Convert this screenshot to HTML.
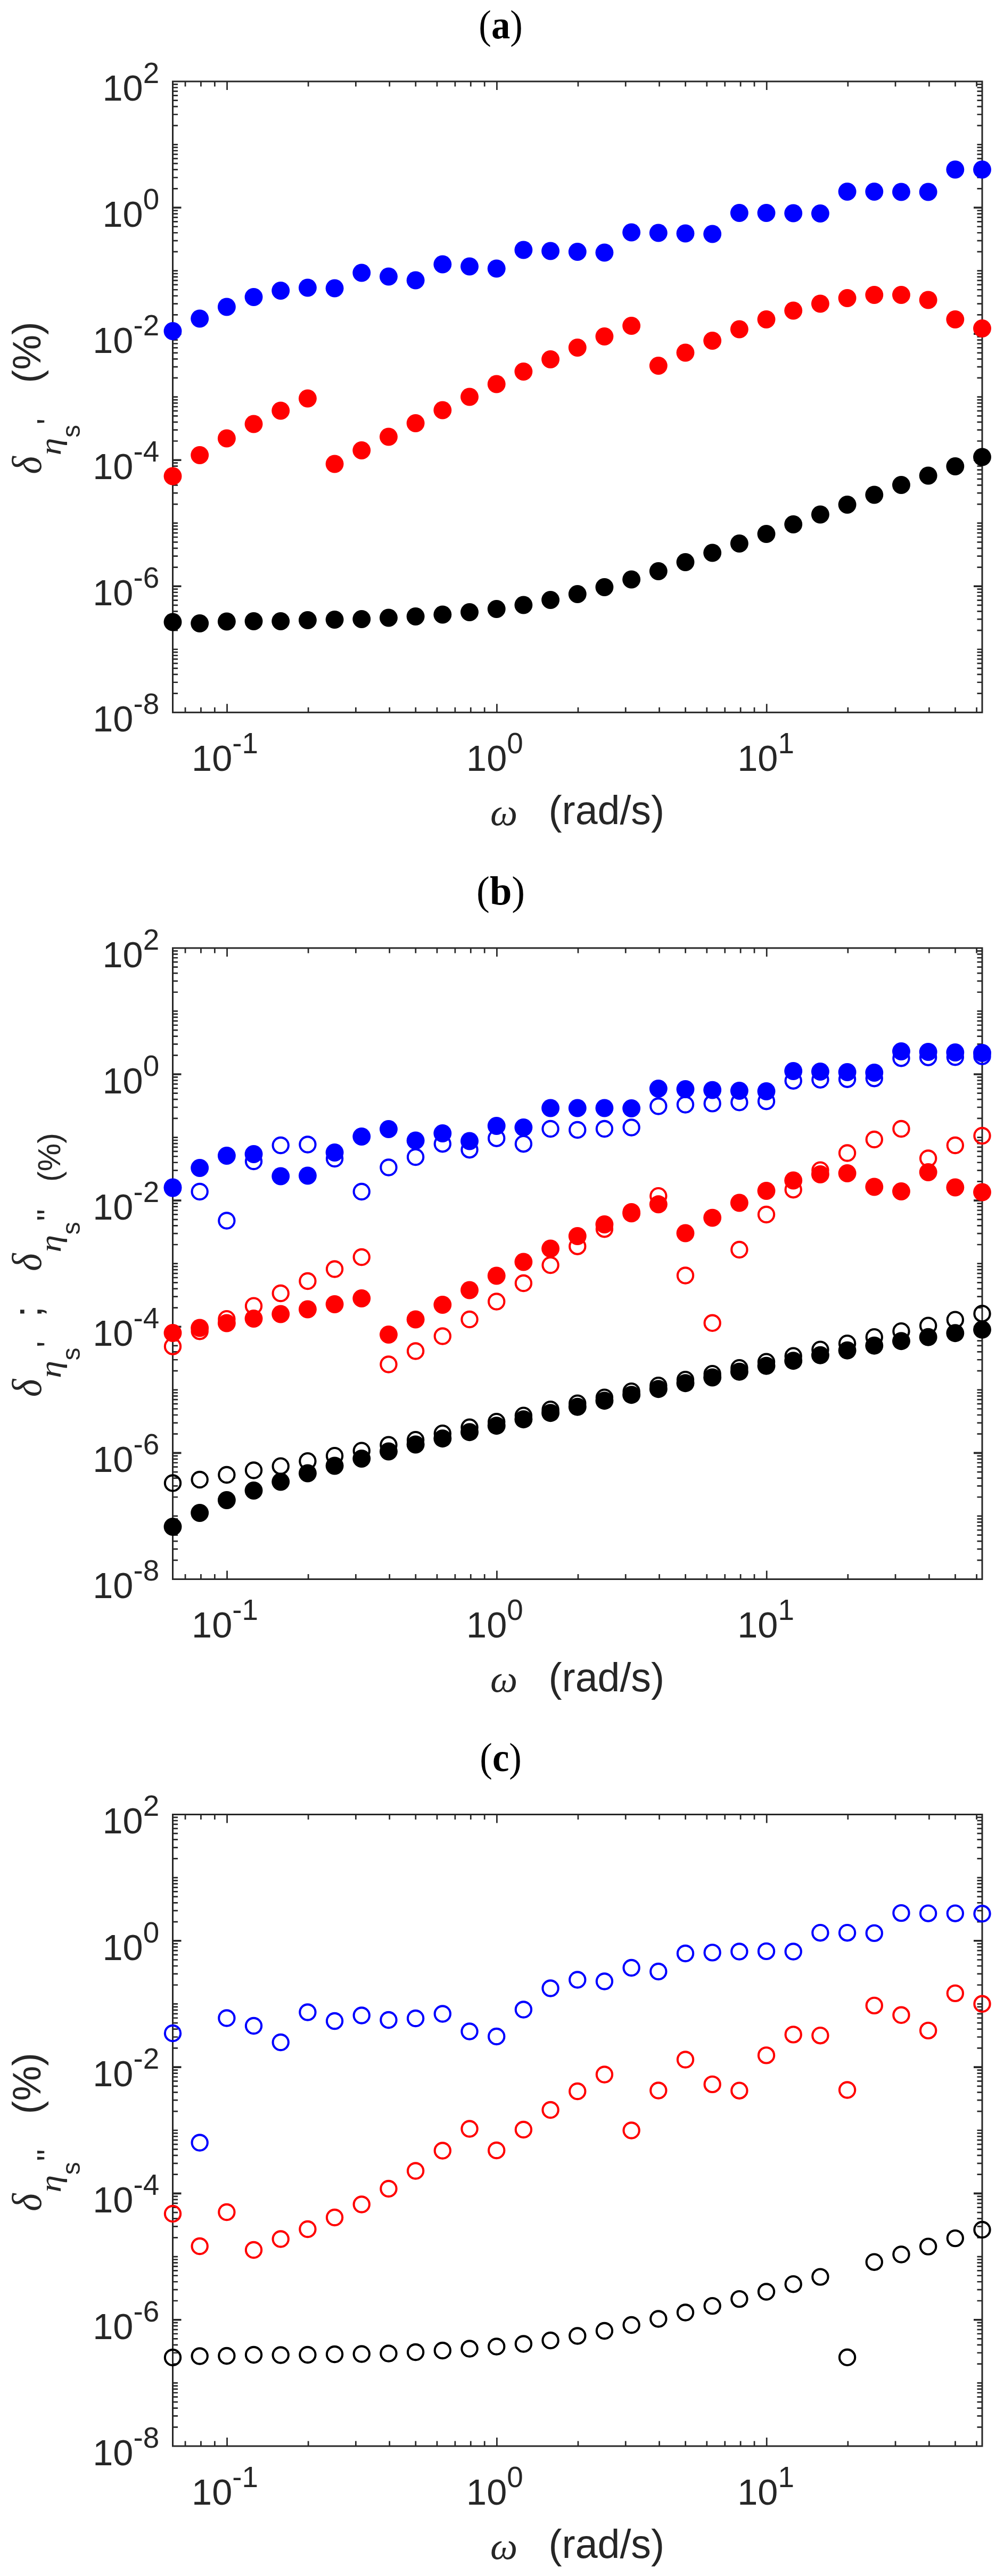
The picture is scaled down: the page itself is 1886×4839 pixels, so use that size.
<!DOCTYPE html><html><head><meta charset="utf-8"><title>figure</title><style>html,body{margin:0;padding:0;background:#fff}svg{display:block}text{font-family:'Liberation Sans', Arial, Helvetica, sans-serif;fill:#262626}text.sr{font-family:'Liberation Serif', 'Times New Roman', serif}text.si{font-family:'Liberation Serif', 'Times New Roman', serif;font-style:italic}</style></head><body>
<svg width="1886" height="4839" viewBox="0 0 1886 4839">
<rect width="1886" height="4839" fill="#fff"/>
<text transform="translate(940.6 71.5) scale(0.925 1)" text-anchor="middle" font-size="76.5" class="sr" style="fill:#000">(<tspan font-weight="bold">a</tspan>)</text>
<path d="M324.5 1302.62h9.5M1845 1302.62h-9.5M324.5 1281.75h9.5M1845 1281.75h-9.5M324.5 1266.94h9.5M1845 1266.94h-9.5M324.5 1255.45h9.5M1845 1255.45h-9.5M324.5 1246.07h9.5M1845 1246.07h-9.5M324.5 1238.13h9.5M1845 1238.13h-9.5M324.5 1231.26h9.5M1845 1231.26h-9.5M324.5 1225.19h9.5M1845 1225.19h-9.5M324.5 1219.77h9.5M1845 1219.77h-9.5M324.5 1184.09h9.5M1845 1184.09h-9.5M324.5 1163.22h9.5M1845 1163.22h-9.5M324.5 1148.41h9.5M1845 1148.41h-9.5M324.5 1136.92h9.5M1845 1136.92h-9.5M324.5 1127.54h9.5M1845 1127.54h-9.5M324.5 1119.6h9.5M1845 1119.6h-9.5M324.5 1112.73h9.5M1845 1112.73h-9.5M324.5 1106.66h9.5M1845 1106.66h-9.5M324.5 1065.56h9.5M1845 1065.56h-9.5M324.5 1044.69h9.5M1845 1044.69h-9.5M324.5 1029.88h9.5M1845 1029.88h-9.5M324.5 1018.39h9.5M1845 1018.39h-9.5M324.5 1009.01h9.5M1845 1009.01h-9.5M324.5 1001.07h9.5M1845 1001.07h-9.5M324.5 994.2h9.5M1845 994.2h-9.5M324.5 988.13h9.5M1845 988.13h-9.5M324.5 982.71h9.5M1845 982.71h-9.5M324.5 947.03h9.5M1845 947.03h-9.5M324.5 926.16h9.5M1845 926.16h-9.5M324.5 911.35h9.5M1845 911.35h-9.5M324.5 899.86h9.5M1845 899.86h-9.5M324.5 890.48h9.5M1845 890.48h-9.5M324.5 882.54h9.5M1845 882.54h-9.5M324.5 875.67h9.5M1845 875.67h-9.5M324.5 869.6h9.5M1845 869.6h-9.5M324.5 828.5h9.5M1845 828.5h-9.5M324.5 807.63h9.5M1845 807.63h-9.5M324.5 792.82h9.5M1845 792.82h-9.5M324.5 781.33h9.5M1845 781.33h-9.5M324.5 771.95h9.5M1845 771.95h-9.5M324.5 764.01h9.5M1845 764.01h-9.5M324.5 757.14h9.5M1845 757.14h-9.5M324.5 751.07h9.5M1845 751.07h-9.5M324.5 745.65h9.5M1845 745.65h-9.5M324.5 709.97h9.5M1845 709.97h-9.5M324.5 689.1h9.5M1845 689.1h-9.5M324.5 674.29h9.5M1845 674.29h-9.5M324.5 662.8h9.5M1845 662.8h-9.5M324.5 653.42h9.5M1845 653.42h-9.5M324.5 645.48h9.5M1845 645.48h-9.5M324.5 638.61h9.5M1845 638.61h-9.5M324.5 632.54h9.5M1845 632.54h-9.5M324.5 591.44h9.5M1845 591.44h-9.5M324.5 570.57h9.5M1845 570.57h-9.5M324.5 555.76h9.5M1845 555.76h-9.5M324.5 544.27h9.5M1845 544.27h-9.5M324.5 534.89h9.5M1845 534.89h-9.5M324.5 526.95h9.5M1845 526.95h-9.5M324.5 520.08h9.5M1845 520.08h-9.5M324.5 514.01h9.5M1845 514.01h-9.5M324.5 508.59h9.5M1845 508.59h-9.5M324.5 472.91h9.5M1845 472.91h-9.5M324.5 452.04h9.5M1845 452.04h-9.5M324.5 437.23h9.5M1845 437.23h-9.5M324.5 425.74h9.5M1845 425.74h-9.5M324.5 416.36h9.5M1845 416.36h-9.5M324.5 408.42h9.5M1845 408.42h-9.5M324.5 401.55h9.5M1845 401.55h-9.5M324.5 395.48h9.5M1845 395.48h-9.5M324.5 354.38h9.5M1845 354.38h-9.5M324.5 333.51h9.5M1845 333.51h-9.5M324.5 318.7h9.5M1845 318.7h-9.5M324.5 307.21h9.5M1845 307.21h-9.5M324.5 297.83h9.5M1845 297.83h-9.5M324.5 289.89h9.5M1845 289.89h-9.5M324.5 283.02h9.5M1845 283.02h-9.5M324.5 276.95h9.5M1845 276.95h-9.5M324.5 271.53h9.5M1845 271.53h-9.5M324.5 235.85h9.5M1845 235.85h-9.5M324.5 214.98h9.5M1845 214.98h-9.5M324.5 200.17h9.5M1845 200.17h-9.5M324.5 188.68h9.5M1845 188.68h-9.5M324.5 179.3h9.5M1845 179.3h-9.5M324.5 171.36h9.5M1845 171.36h-9.5M324.5 164.49h9.5M1845 164.49h-9.5M324.5 158.42h9.5M1845 158.42h-9.5M348.06 153v9.5M348.06 1338.3v-9.5M377.45 153v9.5M377.45 1338.3v-9.5M403.38 153v9.5M403.38 1338.3v-9.5M426.57 153v16M426.57 1338.3v-16M579.14 153v9.5M579.14 1338.3v-9.5M668.39 153v9.5M668.39 1338.3v-9.5M731.71 153v9.5M731.71 1338.3v-9.5M780.83 153v9.5M780.83 1338.3v-9.5M820.96 153v9.5M820.96 1338.3v-9.5M854.89 153v9.5M854.89 1338.3v-9.5M884.28 153v9.5M884.28 1338.3v-9.5M910.21 153v9.5M910.21 1338.3v-9.5M933.4 153v16M933.4 1338.3v-16M1085.97 153v9.5M1085.97 1338.3v-9.5M1175.22 153v9.5M1175.22 1338.3v-9.5M1238.54 153v9.5M1238.54 1338.3v-9.5M1287.66 153v9.5M1287.66 1338.3v-9.5M1327.79 153v9.5M1327.79 1338.3v-9.5M1361.72 153v9.5M1361.72 1338.3v-9.5M1391.12 153v9.5M1391.12 1338.3v-9.5M1417.04 153v9.5M1417.04 1338.3v-9.5M1440.23 153v16M1440.23 1338.3v-16M1592.81 153v9.5M1592.81 1338.3v-9.5M1682.05 153v9.5M1682.05 1338.3v-9.5M1745.38 153v9.5M1745.38 1338.3v-9.5M1794.49 153v9.5M1794.49 1338.3v-9.5M1834.63 153v9.5M1834.63 1338.3v-9.5" stroke="#262626" stroke-width="2.7" fill="none"/>
<path d="M324.5 1101.24h16M1845 1101.24h-16M324.5 864.18h16M1845 864.18h-16M324.5 627.12h16M1845 627.12h-16M324.5 390.06h16M1845 390.06h-16" stroke="#262626" stroke-width="3.6" fill="none"/>
<rect x="324.5" y="153" width="1520.5" height="1185.3" fill="none" stroke="#262626" stroke-width="3.0"/>
<text x="299.2" y="188.9" text-anchor="end" font-size="68.5">10<tspan dy="-33" font-size="54.8">2</tspan></text>
<text x="299.2" y="425.96" text-anchor="end" font-size="68.5">10<tspan dy="-33" font-size="54.8">0</tspan></text>
<text x="299.2" y="663.02" text-anchor="end" font-size="68.5">10<tspan dy="-33" font-size="54.8">-2</tspan></text>
<text x="299.2" y="900.08" text-anchor="end" font-size="68.5">10<tspan dy="-33" font-size="54.8">-4</tspan></text>
<text x="299.2" y="1137.14" text-anchor="end" font-size="68.5">10<tspan dy="-33" font-size="54.8">-6</tspan></text>
<text x="299.2" y="1374.2" text-anchor="end" font-size="68.5">10<tspan dy="-33" font-size="54.8">-8</tspan></text>
<text x="422.57" y="1448" text-anchor="middle" font-size="68.5">10<tspan dy="-33" font-size="54.8">-1</tspan></text>
<text x="929.4" y="1448" text-anchor="middle" font-size="68.5">10<tspan dy="-33" font-size="54.8">0</tspan></text>
<text x="1438.53" y="1448" text-anchor="middle" font-size="68.5">10<tspan dy="-33" font-size="54.8">1</tspan></text>
<text x="921" y="1549.9" font-size="72.5" class="si">ω</text>
<text x="1030.5" y="1548.4" font-size="75.3">(rad/s)</text>
<circle cx="324.5" cy="1168.5" r="16.95" fill="#000000"/>
<circle cx="375.18" cy="1171" r="16.95" fill="#000000"/>
<circle cx="425.87" cy="1167.5" r="16.95" fill="#000000"/>
<circle cx="476.55" cy="1167" r="16.95" fill="#000000"/>
<circle cx="527.23" cy="1167" r="16.95" fill="#000000"/>
<circle cx="577.92" cy="1165" r="16.95" fill="#000000"/>
<circle cx="628.6" cy="1164" r="16.95" fill="#000000"/>
<circle cx="679.28" cy="1163" r="16.95" fill="#000000"/>
<circle cx="729.97" cy="1160.5" r="16.95" fill="#000000"/>
<circle cx="780.65" cy="1158" r="16.95" fill="#000000"/>
<circle cx="831.33" cy="1154.5" r="16.95" fill="#000000"/>
<circle cx="882.02" cy="1150" r="16.95" fill="#000000"/>
<circle cx="932.7" cy="1144" r="16.95" fill="#000000"/>
<circle cx="983.38" cy="1136.5" r="16.95" fill="#000000"/>
<circle cx="1034.07" cy="1127" r="16.95" fill="#000000"/>
<circle cx="1084.75" cy="1116" r="16.95" fill="#000000"/>
<circle cx="1135.43" cy="1103" r="16.95" fill="#000000"/>
<circle cx="1186.12" cy="1088.5" r="16.95" fill="#000000"/>
<circle cx="1236.8" cy="1073" r="16.95" fill="#000000"/>
<circle cx="1287.48" cy="1056" r="16.95" fill="#000000"/>
<circle cx="1338.17" cy="1038.5" r="16.95" fill="#000000"/>
<circle cx="1388.85" cy="1021" r="16.95" fill="#000000"/>
<circle cx="1439.53" cy="1003" r="16.95" fill="#000000"/>
<circle cx="1490.22" cy="985" r="16.95" fill="#000000"/>
<circle cx="1540.9" cy="966.5" r="16.95" fill="#000000"/>
<circle cx="1591.58" cy="948" r="16.95" fill="#000000"/>
<circle cx="1642.27" cy="929.5" r="16.95" fill="#000000"/>
<circle cx="1692.95" cy="911" r="16.95" fill="#000000"/>
<circle cx="1743.63" cy="893.5" r="16.95" fill="#000000"/>
<circle cx="1794.32" cy="876" r="16.95" fill="#000000"/>
<circle cx="1845" cy="858.5" r="16.95" fill="#000000"/>
<circle cx="324.5" cy="894.5" r="16.95" fill="#ff0000"/>
<circle cx="375.18" cy="855" r="16.95" fill="#ff0000"/>
<circle cx="425.87" cy="823.5" r="16.95" fill="#ff0000"/>
<circle cx="476.55" cy="796.5" r="16.95" fill="#ff0000"/>
<circle cx="527.23" cy="771.5" r="16.95" fill="#ff0000"/>
<circle cx="577.92" cy="748.5" r="16.95" fill="#ff0000"/>
<circle cx="628.6" cy="871.5" r="16.95" fill="#ff0000"/>
<circle cx="679.28" cy="846" r="16.95" fill="#ff0000"/>
<circle cx="729.97" cy="820.5" r="16.95" fill="#ff0000"/>
<circle cx="780.65" cy="795" r="16.95" fill="#ff0000"/>
<circle cx="831.33" cy="770.5" r="16.95" fill="#ff0000"/>
<circle cx="882.02" cy="745.5" r="16.95" fill="#ff0000"/>
<circle cx="932.7" cy="721.5" r="16.95" fill="#ff0000"/>
<circle cx="983.38" cy="698" r="16.95" fill="#ff0000"/>
<circle cx="1034.07" cy="675" r="16.95" fill="#ff0000"/>
<circle cx="1084.75" cy="653" r="16.95" fill="#ff0000"/>
<circle cx="1135.43" cy="632" r="16.95" fill="#ff0000"/>
<circle cx="1186.12" cy="612" r="16.95" fill="#ff0000"/>
<circle cx="1236.8" cy="687" r="16.95" fill="#ff0000"/>
<circle cx="1287.48" cy="662.5" r="16.95" fill="#ff0000"/>
<circle cx="1338.17" cy="640" r="16.95" fill="#ff0000"/>
<circle cx="1388.85" cy="618.5" r="16.95" fill="#ff0000"/>
<circle cx="1439.53" cy="600" r="16.95" fill="#ff0000"/>
<circle cx="1490.22" cy="583.5" r="16.95" fill="#ff0000"/>
<circle cx="1540.9" cy="570.5" r="16.95" fill="#ff0000"/>
<circle cx="1591.58" cy="560" r="16.95" fill="#ff0000"/>
<circle cx="1642.27" cy="554" r="16.95" fill="#ff0000"/>
<circle cx="1692.95" cy="554" r="16.95" fill="#ff0000"/>
<circle cx="1743.63" cy="563.5" r="16.95" fill="#ff0000"/>
<circle cx="1794.32" cy="600" r="16.95" fill="#ff0000"/>
<circle cx="1845" cy="617" r="16.95" fill="#ff0000"/>
<circle cx="324.5" cy="622" r="16.95" fill="#0000ff"/>
<circle cx="375.18" cy="598.5" r="16.95" fill="#0000ff"/>
<circle cx="425.87" cy="576.5" r="16.95" fill="#0000ff"/>
<circle cx="476.55" cy="558" r="16.95" fill="#0000ff"/>
<circle cx="527.23" cy="546" r="16.95" fill="#0000ff"/>
<circle cx="577.92" cy="540.5" r="16.95" fill="#0000ff"/>
<circle cx="628.6" cy="541.5" r="16.95" fill="#0000ff"/>
<circle cx="679.28" cy="512.5" r="16.95" fill="#0000ff"/>
<circle cx="729.97" cy="519.5" r="16.95" fill="#0000ff"/>
<circle cx="780.65" cy="526.5" r="16.95" fill="#0000ff"/>
<circle cx="831.33" cy="496.5" r="16.95" fill="#0000ff"/>
<circle cx="882.02" cy="500.5" r="16.95" fill="#0000ff"/>
<circle cx="932.7" cy="504.5" r="16.95" fill="#0000ff"/>
<circle cx="983.38" cy="469.5" r="16.95" fill="#0000ff"/>
<circle cx="1034.07" cy="471.5" r="16.95" fill="#0000ff"/>
<circle cx="1084.75" cy="473" r="16.95" fill="#0000ff"/>
<circle cx="1135.43" cy="474.5" r="16.95" fill="#0000ff"/>
<circle cx="1186.12" cy="436.5" r="16.95" fill="#0000ff"/>
<circle cx="1236.8" cy="437.5" r="16.95" fill="#0000ff"/>
<circle cx="1287.48" cy="438.5" r="16.95" fill="#0000ff"/>
<circle cx="1338.17" cy="439.5" r="16.95" fill="#0000ff"/>
<circle cx="1388.85" cy="400" r="16.95" fill="#0000ff"/>
<circle cx="1439.53" cy="400" r="16.95" fill="#0000ff"/>
<circle cx="1490.22" cy="400.5" r="16.95" fill="#0000ff"/>
<circle cx="1540.9" cy="401" r="16.95" fill="#0000ff"/>
<circle cx="1591.58" cy="360" r="16.95" fill="#0000ff"/>
<circle cx="1642.27" cy="360" r="16.95" fill="#0000ff"/>
<circle cx="1692.95" cy="360.5" r="16.95" fill="#0000ff"/>
<circle cx="1743.63" cy="360.5" r="16.95" fill="#0000ff"/>
<circle cx="1794.32" cy="318.5" r="16.95" fill="#0000ff"/>
<circle cx="1845" cy="318.5" r="16.95" fill="#0000ff"/>
<g transform="translate(77.3 890.5) rotate(-90)"><text font-size="78" class="si" transform="scale(0.915 1)">δ</text></g>
<g transform="translate(113.6 855.3) rotate(-90)"><text font-size="57" class="si" transform="scale(1.16 1)">η</text></g>
<g transform="translate(149.95 821.95) rotate(-90)"><text font-size="48.2">s</text></g>
<g transform="translate(112.2 797.45) rotate(-90)"><text font-size="60.2">'</text></g>
<g transform="translate(76.45 719.5) rotate(-90)"><text font-size="74">(%)</text></g>
<text transform="translate(940.6 1699.4) scale(0.974 1)" text-anchor="middle" font-size="76.5" class="sr" style="fill:#000">(<tspan font-weight="bold">b</tspan>)</text>
<path d="M324.5 2930.81h9.5M1845 2930.81h-9.5M324.5 2909.93h9.5M1845 2909.93h-9.5M324.5 2895.12h9.5M1845 2895.12h-9.5M324.5 2883.63h9.5M1845 2883.63h-9.5M324.5 2874.24h9.5M1845 2874.24h-9.5M324.5 2866.31h9.5M1845 2866.31h-9.5M324.5 2859.43h9.5M1845 2859.43h-9.5M324.5 2853.37h9.5M1845 2853.37h-9.5M324.5 2847.94h9.5M1845 2847.94h-9.5M324.5 2812.25h9.5M1845 2812.25h-9.5M324.5 2791.37h9.5M1845 2791.37h-9.5M324.5 2776.56h9.5M1845 2776.56h-9.5M324.5 2765.07h9.5M1845 2765.07h-9.5M324.5 2755.68h9.5M1845 2755.68h-9.5M324.5 2747.75h9.5M1845 2747.75h-9.5M324.5 2740.87h9.5M1845 2740.87h-9.5M324.5 2734.81h9.5M1845 2734.81h-9.5M324.5 2693.69h9.5M1845 2693.69h-9.5M324.5 2672.81h9.5M1845 2672.81h-9.5M324.5 2658h9.5M1845 2658h-9.5M324.5 2646.51h9.5M1845 2646.51h-9.5M324.5 2637.12h9.5M1845 2637.12h-9.5M324.5 2629.19h9.5M1845 2629.19h-9.5M324.5 2622.31h9.5M1845 2622.31h-9.5M324.5 2616.25h9.5M1845 2616.25h-9.5M324.5 2610.82h9.5M1845 2610.82h-9.5M324.5 2575.13h9.5M1845 2575.13h-9.5M324.5 2554.25h9.5M1845 2554.25h-9.5M324.5 2539.44h9.5M1845 2539.44h-9.5M324.5 2527.95h9.5M1845 2527.95h-9.5M324.5 2518.56h9.5M1845 2518.56h-9.5M324.5 2510.63h9.5M1845 2510.63h-9.5M324.5 2503.75h9.5M1845 2503.75h-9.5M324.5 2497.69h9.5M1845 2497.69h-9.5M324.5 2456.57h9.5M1845 2456.57h-9.5M324.5 2435.69h9.5M1845 2435.69h-9.5M324.5 2420.88h9.5M1845 2420.88h-9.5M324.5 2409.39h9.5M1845 2409.39h-9.5M324.5 2400h9.5M1845 2400h-9.5M324.5 2392.07h9.5M1845 2392.07h-9.5M324.5 2385.19h9.5M1845 2385.19h-9.5M324.5 2379.13h9.5M1845 2379.13h-9.5M324.5 2373.7h9.5M1845 2373.7h-9.5M324.5 2338.01h9.5M1845 2338.01h-9.5M324.5 2317.13h9.5M1845 2317.13h-9.5M324.5 2302.32h9.5M1845 2302.32h-9.5M324.5 2290.83h9.5M1845 2290.83h-9.5M324.5 2281.44h9.5M1845 2281.44h-9.5M324.5 2273.51h9.5M1845 2273.51h-9.5M324.5 2266.63h9.5M1845 2266.63h-9.5M324.5 2260.57h9.5M1845 2260.57h-9.5M324.5 2219.45h9.5M1845 2219.45h-9.5M324.5 2198.57h9.5M1845 2198.57h-9.5M324.5 2183.76h9.5M1845 2183.76h-9.5M324.5 2172.27h9.5M1845 2172.27h-9.5M324.5 2162.88h9.5M1845 2162.88h-9.5M324.5 2154.95h9.5M1845 2154.95h-9.5M324.5 2148.07h9.5M1845 2148.07h-9.5M324.5 2142.01h9.5M1845 2142.01h-9.5M324.5 2136.58h9.5M1845 2136.58h-9.5M324.5 2100.89h9.5M1845 2100.89h-9.5M324.5 2080.01h9.5M1845 2080.01h-9.5M324.5 2065.2h9.5M1845 2065.2h-9.5M324.5 2053.71h9.5M1845 2053.71h-9.5M324.5 2044.32h9.5M1845 2044.32h-9.5M324.5 2036.39h9.5M1845 2036.39h-9.5M324.5 2029.51h9.5M1845 2029.51h-9.5M324.5 2023.45h9.5M1845 2023.45h-9.5M324.5 1982.33h9.5M1845 1982.33h-9.5M324.5 1961.45h9.5M1845 1961.45h-9.5M324.5 1946.64h9.5M1845 1946.64h-9.5M324.5 1935.15h9.5M1845 1935.15h-9.5M324.5 1925.76h9.5M1845 1925.76h-9.5M324.5 1917.83h9.5M1845 1917.83h-9.5M324.5 1910.95h9.5M1845 1910.95h-9.5M324.5 1904.89h9.5M1845 1904.89h-9.5M324.5 1899.46h9.5M1845 1899.46h-9.5M324.5 1863.77h9.5M1845 1863.77h-9.5M324.5 1842.89h9.5M1845 1842.89h-9.5M324.5 1828.08h9.5M1845 1828.08h-9.5M324.5 1816.59h9.5M1845 1816.59h-9.5M324.5 1807.2h9.5M1845 1807.2h-9.5M324.5 1799.27h9.5M1845 1799.27h-9.5M324.5 1792.39h9.5M1845 1792.39h-9.5M324.5 1786.33h9.5M1845 1786.33h-9.5M348.06 1780.9v9.5M348.06 2966.5v-9.5M377.45 1780.9v9.5M377.45 2966.5v-9.5M403.38 1780.9v9.5M403.38 2966.5v-9.5M426.57 1780.9v16M426.57 2966.5v-16M579.14 1780.9v9.5M579.14 2966.5v-9.5M668.39 1780.9v9.5M668.39 2966.5v-9.5M731.71 1780.9v9.5M731.71 2966.5v-9.5M780.83 1780.9v9.5M780.83 2966.5v-9.5M820.96 1780.9v9.5M820.96 2966.5v-9.5M854.89 1780.9v9.5M854.89 2966.5v-9.5M884.28 1780.9v9.5M884.28 2966.5v-9.5M910.21 1780.9v9.5M910.21 2966.5v-9.5M933.4 1780.9v16M933.4 2966.5v-16M1085.97 1780.9v9.5M1085.97 2966.5v-9.5M1175.22 1780.9v9.5M1175.22 2966.5v-9.5M1238.54 1780.9v9.5M1238.54 2966.5v-9.5M1287.66 1780.9v9.5M1287.66 2966.5v-9.5M1327.79 1780.9v9.5M1327.79 2966.5v-9.5M1361.72 1780.9v9.5M1361.72 2966.5v-9.5M1391.12 1780.9v9.5M1391.12 2966.5v-9.5M1417.04 1780.9v9.5M1417.04 2966.5v-9.5M1440.23 1780.9v16M1440.23 2966.5v-16M1592.81 1780.9v9.5M1592.81 2966.5v-9.5M1682.05 1780.9v9.5M1682.05 2966.5v-9.5M1745.38 1780.9v9.5M1745.38 2966.5v-9.5M1794.49 1780.9v9.5M1794.49 2966.5v-9.5M1834.63 1780.9v9.5M1834.63 2966.5v-9.5" stroke="#262626" stroke-width="2.7" fill="none"/>
<path d="M324.5 2729.38h16M1845 2729.38h-16M324.5 2492.26h16M1845 2492.26h-16M324.5 2255.14h16M1845 2255.14h-16M324.5 2018.02h16M1845 2018.02h-16" stroke="#262626" stroke-width="3.6" fill="none"/>
<rect x="324.5" y="1780.9" width="1520.5" height="1185.6" fill="none" stroke="#262626" stroke-width="3.0"/>
<text x="299.2" y="1816.8" text-anchor="end" font-size="68.5">10<tspan dy="-33" font-size="54.8">2</tspan></text>
<text x="299.2" y="2053.92" text-anchor="end" font-size="68.5">10<tspan dy="-33" font-size="54.8">0</tspan></text>
<text x="299.2" y="2291.04" text-anchor="end" font-size="68.5">10<tspan dy="-33" font-size="54.8">-2</tspan></text>
<text x="299.2" y="2528.16" text-anchor="end" font-size="68.5">10<tspan dy="-33" font-size="54.8">-4</tspan></text>
<text x="299.2" y="2765.28" text-anchor="end" font-size="68.5">10<tspan dy="-33" font-size="54.8">-6</tspan></text>
<text x="299.2" y="3002.4" text-anchor="end" font-size="68.5">10<tspan dy="-33" font-size="54.8">-8</tspan></text>
<text x="422.57" y="3076.2" text-anchor="middle" font-size="68.5">10<tspan dy="-33" font-size="54.8">-1</tspan></text>
<text x="929.4" y="3076.2" text-anchor="middle" font-size="68.5">10<tspan dy="-33" font-size="54.8">0</tspan></text>
<text x="1438.53" y="3076.2" text-anchor="middle" font-size="68.5">10<tspan dy="-33" font-size="54.8">1</tspan></text>
<text x="921" y="3178.1" font-size="72.5" class="si">ω</text>
<text x="1030.5" y="3176.6" font-size="75.3">(rad/s)</text>
<circle cx="324.5" cy="2786" r="14.65" fill="none" stroke="#000000" stroke-width="4.1"/>
<circle cx="375.18" cy="2779.5" r="14.65" fill="none" stroke="#000000" stroke-width="4.1"/>
<circle cx="425.87" cy="2770.5" r="14.65" fill="none" stroke="#000000" stroke-width="4.1"/>
<circle cx="476.55" cy="2762" r="14.65" fill="none" stroke="#000000" stroke-width="4.1"/>
<circle cx="527.23" cy="2754.2" r="14.65" fill="none" stroke="#000000" stroke-width="4.1"/>
<circle cx="577.92" cy="2744.7" r="14.65" fill="none" stroke="#000000" stroke-width="4.1"/>
<circle cx="628.6" cy="2734.7" r="14.65" fill="none" stroke="#000000" stroke-width="4.1"/>
<circle cx="679.28" cy="2725.2" r="14.65" fill="none" stroke="#000000" stroke-width="4.1"/>
<circle cx="729.97" cy="2714.2" r="14.65" fill="none" stroke="#000000" stroke-width="4.1"/>
<circle cx="780.65" cy="2704.7" r="14.65" fill="none" stroke="#000000" stroke-width="4.1"/>
<circle cx="831.33" cy="2692.7" r="14.65" fill="none" stroke="#000000" stroke-width="4.1"/>
<circle cx="882.02" cy="2681.2" r="14.65" fill="none" stroke="#000000" stroke-width="4.1"/>
<circle cx="932.7" cy="2670.7" r="14.65" fill="none" stroke="#000000" stroke-width="4.1"/>
<circle cx="983.38" cy="2659.2" r="14.65" fill="none" stroke="#000000" stroke-width="4.1"/>
<circle cx="1034.07" cy="2647.7" r="14.65" fill="none" stroke="#000000" stroke-width="4.1"/>
<circle cx="1084.75" cy="2636.2" r="14.65" fill="none" stroke="#000000" stroke-width="4.1"/>
<circle cx="1135.43" cy="2625.2" r="14.65" fill="none" stroke="#000000" stroke-width="4.1"/>
<circle cx="1186.12" cy="2613.7" r="14.65" fill="none" stroke="#000000" stroke-width="4.1"/>
<circle cx="1236.8" cy="2602.7" r="14.65" fill="none" stroke="#000000" stroke-width="4.1"/>
<circle cx="1287.48" cy="2591.7" r="14.65" fill="none" stroke="#000000" stroke-width="4.1"/>
<circle cx="1338.17" cy="2580.7" r="14.65" fill="none" stroke="#000000" stroke-width="4.1"/>
<circle cx="1388.85" cy="2569.7" r="14.65" fill="none" stroke="#000000" stroke-width="4.1"/>
<circle cx="1439.53" cy="2558.2" r="14.65" fill="none" stroke="#000000" stroke-width="4.1"/>
<circle cx="1490.22" cy="2547.2" r="14.65" fill="none" stroke="#000000" stroke-width="4.1"/>
<circle cx="1540.9" cy="2535.2" r="14.65" fill="none" stroke="#000000" stroke-width="4.1"/>
<circle cx="1591.58" cy="2523.7" r="14.65" fill="none" stroke="#000000" stroke-width="4.1"/>
<circle cx="1642.27" cy="2511.7" r="14.65" fill="none" stroke="#000000" stroke-width="4.1"/>
<circle cx="1692.95" cy="2500.7" r="14.65" fill="none" stroke="#000000" stroke-width="4.1"/>
<circle cx="1743.63" cy="2490.2" r="14.65" fill="none" stroke="#000000" stroke-width="4.1"/>
<circle cx="1794.32" cy="2479.2" r="14.65" fill="none" stroke="#000000" stroke-width="4.1"/>
<circle cx="1845" cy="2467.7" r="14.65" fill="none" stroke="#000000" stroke-width="4.1"/>
<circle cx="324.5" cy="2529.2" r="14.65" fill="none" stroke="#ff0000" stroke-width="4.1"/>
<circle cx="375.18" cy="2500.7" r="14.65" fill="none" stroke="#ff0000" stroke-width="4.1"/>
<circle cx="425.87" cy="2477.7" r="14.65" fill="none" stroke="#ff0000" stroke-width="4.1"/>
<circle cx="476.55" cy="2453.2" r="14.65" fill="none" stroke="#ff0000" stroke-width="4.1"/>
<circle cx="527.23" cy="2429.5" r="14.65" fill="none" stroke="#ff0000" stroke-width="4.1"/>
<circle cx="577.92" cy="2406.5" r="14.65" fill="none" stroke="#ff0000" stroke-width="4.1"/>
<circle cx="628.6" cy="2384" r="14.65" fill="none" stroke="#ff0000" stroke-width="4.1"/>
<circle cx="679.28" cy="2361.5" r="14.65" fill="none" stroke="#ff0000" stroke-width="4.1"/>
<circle cx="729.97" cy="2563" r="14.65" fill="none" stroke="#ff0000" stroke-width="4.1"/>
<circle cx="780.65" cy="2538" r="14.65" fill="none" stroke="#ff0000" stroke-width="4.1"/>
<circle cx="831.33" cy="2510" r="14.65" fill="none" stroke="#ff0000" stroke-width="4.1"/>
<circle cx="882.02" cy="2478.5" r="14.65" fill="none" stroke="#ff0000" stroke-width="4.1"/>
<circle cx="932.7" cy="2445" r="14.65" fill="none" stroke="#ff0000" stroke-width="4.1"/>
<circle cx="983.38" cy="2410.5" r="14.65" fill="none" stroke="#ff0000" stroke-width="4.1"/>
<circle cx="1034.07" cy="2376.5" r="14.65" fill="none" stroke="#ff0000" stroke-width="4.1"/>
<circle cx="1084.75" cy="2341.2" r="14.65" fill="none" stroke="#ff0000" stroke-width="4.1"/>
<circle cx="1135.43" cy="2308.7" r="14.65" fill="none" stroke="#ff0000" stroke-width="4.1"/>
<circle cx="1186.12" cy="2276.6" r="14.65" fill="none" stroke="#ff0000" stroke-width="4.1"/>
<circle cx="1236.8" cy="2246.7" r="14.65" fill="none" stroke="#ff0000" stroke-width="4.1"/>
<circle cx="1287.48" cy="2396" r="14.65" fill="none" stroke="#ff0000" stroke-width="4.1"/>
<circle cx="1338.17" cy="2485.3" r="14.65" fill="none" stroke="#ff0000" stroke-width="4.1"/>
<circle cx="1388.85" cy="2347.5" r="14.65" fill="none" stroke="#ff0000" stroke-width="4.1"/>
<circle cx="1439.53" cy="2281.5" r="14.65" fill="none" stroke="#ff0000" stroke-width="4.1"/>
<circle cx="1490.22" cy="2234.7" r="14.65" fill="none" stroke="#ff0000" stroke-width="4.1"/>
<circle cx="1540.9" cy="2198.2" r="14.65" fill="none" stroke="#ff0000" stroke-width="4.1"/>
<circle cx="1591.58" cy="2166" r="14.65" fill="none" stroke="#ff0000" stroke-width="4.1"/>
<circle cx="1642.27" cy="2140.5" r="14.65" fill="none" stroke="#ff0000" stroke-width="4.1"/>
<circle cx="1692.95" cy="2120.5" r="14.65" fill="none" stroke="#ff0000" stroke-width="4.1"/>
<circle cx="1743.63" cy="2176" r="14.65" fill="none" stroke="#ff0000" stroke-width="4.1"/>
<circle cx="1794.32" cy="2151.5" r="14.65" fill="none" stroke="#ff0000" stroke-width="4.1"/>
<circle cx="1845" cy="2133.5" r="14.65" fill="none" stroke="#ff0000" stroke-width="4.1"/>
<circle cx="324.5" cy="2232" r="14.65" fill="none" stroke="#0000ff" stroke-width="4.1"/>
<circle cx="375.18" cy="2238.5" r="14.65" fill="none" stroke="#0000ff" stroke-width="4.1"/>
<circle cx="425.87" cy="2293" r="14.65" fill="none" stroke="#0000ff" stroke-width="4.1"/>
<circle cx="476.55" cy="2181.5" r="14.65" fill="none" stroke="#0000ff" stroke-width="4.1"/>
<circle cx="527.23" cy="2151.5" r="14.65" fill="none" stroke="#0000ff" stroke-width="4.1"/>
<circle cx="577.92" cy="2150" r="14.65" fill="none" stroke="#0000ff" stroke-width="4.1"/>
<circle cx="628.6" cy="2176.5" r="14.65" fill="none" stroke="#0000ff" stroke-width="4.1"/>
<circle cx="679.28" cy="2238.5" r="14.65" fill="none" stroke="#0000ff" stroke-width="4.1"/>
<circle cx="729.97" cy="2193" r="14.65" fill="none" stroke="#0000ff" stroke-width="4.1"/>
<circle cx="780.65" cy="2173.5" r="14.65" fill="none" stroke="#0000ff" stroke-width="4.1"/>
<circle cx="831.33" cy="2148.7" r="14.65" fill="none" stroke="#0000ff" stroke-width="4.1"/>
<circle cx="882.02" cy="2159.7" r="14.65" fill="none" stroke="#0000ff" stroke-width="4.1"/>
<circle cx="932.7" cy="2138.2" r="14.65" fill="none" stroke="#0000ff" stroke-width="4.1"/>
<circle cx="983.38" cy="2148.7" r="14.65" fill="none" stroke="#0000ff" stroke-width="4.1"/>
<circle cx="1034.07" cy="2120.5" r="14.65" fill="none" stroke="#0000ff" stroke-width="4.1"/>
<circle cx="1084.75" cy="2122.5" r="14.65" fill="none" stroke="#0000ff" stroke-width="4.1"/>
<circle cx="1135.43" cy="2120.5" r="14.65" fill="none" stroke="#0000ff" stroke-width="4.1"/>
<circle cx="1186.12" cy="2118" r="14.65" fill="none" stroke="#0000ff" stroke-width="4.1"/>
<circle cx="1236.8" cy="2078" r="14.65" fill="none" stroke="#0000ff" stroke-width="4.1"/>
<circle cx="1287.48" cy="2075" r="14.65" fill="none" stroke="#0000ff" stroke-width="4.1"/>
<circle cx="1338.17" cy="2072.9" r="14.65" fill="none" stroke="#0000ff" stroke-width="4.1"/>
<circle cx="1388.85" cy="2070.8" r="14.65" fill="none" stroke="#0000ff" stroke-width="4.1"/>
<circle cx="1439.53" cy="2068.7" r="14.65" fill="none" stroke="#0000ff" stroke-width="4.1"/>
<circle cx="1490.22" cy="2030.2" r="14.65" fill="none" stroke="#0000ff" stroke-width="4.1"/>
<circle cx="1540.9" cy="2028.2" r="14.65" fill="none" stroke="#0000ff" stroke-width="4.1"/>
<circle cx="1591.58" cy="2027.2" r="14.65" fill="none" stroke="#0000ff" stroke-width="4.1"/>
<circle cx="1642.27" cy="2025.7" r="14.65" fill="none" stroke="#0000ff" stroke-width="4.1"/>
<circle cx="1692.95" cy="1987.7" r="14.65" fill="none" stroke="#0000ff" stroke-width="4.1"/>
<circle cx="1743.63" cy="1986.2" r="14.65" fill="none" stroke="#0000ff" stroke-width="4.1"/>
<circle cx="1794.32" cy="1985.7" r="14.65" fill="none" stroke="#0000ff" stroke-width="4.1"/>
<circle cx="1845" cy="1984.2" r="14.65" fill="none" stroke="#0000ff" stroke-width="4.1"/>
<circle cx="324.5" cy="2868" r="16.95" fill="#000000"/>
<circle cx="375.18" cy="2842" r="16.95" fill="#000000"/>
<circle cx="425.87" cy="2818" r="16.95" fill="#000000"/>
<circle cx="476.55" cy="2800" r="16.95" fill="#000000"/>
<circle cx="527.23" cy="2783.5" r="16.95" fill="#000000"/>
<circle cx="577.92" cy="2767.5" r="16.95" fill="#000000"/>
<circle cx="628.6" cy="2753.5" r="16.95" fill="#000000"/>
<circle cx="679.28" cy="2740" r="16.95" fill="#000000"/>
<circle cx="729.97" cy="2726.5" r="16.95" fill="#000000"/>
<circle cx="780.65" cy="2713.5" r="16.95" fill="#000000"/>
<circle cx="831.33" cy="2702.2" r="16.95" fill="#000000"/>
<circle cx="882.02" cy="2690.2" r="16.95" fill="#000000"/>
<circle cx="932.7" cy="2678.2" r="16.95" fill="#000000"/>
<circle cx="983.38" cy="2666.2" r="16.95" fill="#000000"/>
<circle cx="1034.07" cy="2654.2" r="16.95" fill="#000000"/>
<circle cx="1084.75" cy="2642.7" r="16.95" fill="#000000"/>
<circle cx="1135.43" cy="2631.2" r="16.95" fill="#000000"/>
<circle cx="1186.12" cy="2620.2" r="16.95" fill="#000000"/>
<circle cx="1236.8" cy="2609.2" r="16.95" fill="#000000"/>
<circle cx="1287.48" cy="2598.2" r="16.95" fill="#000000"/>
<circle cx="1338.17" cy="2587.5" r="16.95" fill="#000000"/>
<circle cx="1388.85" cy="2576.7" r="16.95" fill="#000000"/>
<circle cx="1439.53" cy="2565.7" r="16.95" fill="#000000"/>
<circle cx="1490.22" cy="2556.2" r="16.95" fill="#000000"/>
<circle cx="1540.9" cy="2545.7" r="16.95" fill="#000000"/>
<circle cx="1591.58" cy="2536.7" r="16.95" fill="#000000"/>
<circle cx="1642.27" cy="2527.7" r="16.95" fill="#000000"/>
<circle cx="1692.95" cy="2519.2" r="16.95" fill="#000000"/>
<circle cx="1743.63" cy="2511.7" r="16.95" fill="#000000"/>
<circle cx="1794.32" cy="2504.2" r="16.95" fill="#000000"/>
<circle cx="1845" cy="2497.7" r="16.95" fill="#000000"/>
<circle cx="324.5" cy="2504" r="16.95" fill="#ff0000"/>
<circle cx="375.18" cy="2494.5" r="16.95" fill="#ff0000"/>
<circle cx="425.87" cy="2485.5" r="16.95" fill="#ff0000"/>
<circle cx="476.55" cy="2477" r="16.95" fill="#ff0000"/>
<circle cx="527.23" cy="2468.5" r="16.95" fill="#ff0000"/>
<circle cx="577.92" cy="2459.5" r="16.95" fill="#ff0000"/>
<circle cx="628.6" cy="2450" r="16.95" fill="#ff0000"/>
<circle cx="679.28" cy="2439" r="16.95" fill="#ff0000"/>
<circle cx="729.97" cy="2507" r="16.95" fill="#ff0000"/>
<circle cx="780.65" cy="2478.5" r="16.95" fill="#ff0000"/>
<circle cx="831.33" cy="2451" r="16.95" fill="#ff0000"/>
<circle cx="882.02" cy="2423.5" r="16.95" fill="#ff0000"/>
<circle cx="932.7" cy="2396.5" r="16.95" fill="#ff0000"/>
<circle cx="983.38" cy="2370.5" r="16.95" fill="#ff0000"/>
<circle cx="1034.07" cy="2345.5" r="16.95" fill="#ff0000"/>
<circle cx="1084.75" cy="2322" r="16.95" fill="#ff0000"/>
<circle cx="1135.43" cy="2300" r="16.95" fill="#ff0000"/>
<circle cx="1186.12" cy="2279.3" r="16.95" fill="#ff0000"/>
<circle cx="1236.8" cy="2262.3" r="16.95" fill="#ff0000"/>
<circle cx="1287.48" cy="2316.5" r="16.95" fill="#ff0000"/>
<circle cx="1338.17" cy="2287.6" r="16.95" fill="#ff0000"/>
<circle cx="1388.85" cy="2259.5" r="16.95" fill="#ff0000"/>
<circle cx="1439.53" cy="2237" r="16.95" fill="#ff0000"/>
<circle cx="1490.22" cy="2217.5" r="16.95" fill="#ff0000"/>
<circle cx="1540.9" cy="2206" r="16.95" fill="#ff0000"/>
<circle cx="1591.58" cy="2204" r="16.95" fill="#ff0000"/>
<circle cx="1642.27" cy="2229.5" r="16.95" fill="#ff0000"/>
<circle cx="1692.95" cy="2238" r="16.95" fill="#ff0000"/>
<circle cx="1743.63" cy="2202" r="16.95" fill="#ff0000"/>
<circle cx="1794.32" cy="2230.5" r="16.95" fill="#ff0000"/>
<circle cx="1845" cy="2239.5" r="16.95" fill="#ff0000"/>
<circle cx="324.5" cy="2230.5" r="16.95" fill="#0000ff"/>
<circle cx="375.18" cy="2194" r="16.95" fill="#0000ff"/>
<circle cx="425.87" cy="2171" r="16.95" fill="#0000ff"/>
<circle cx="476.55" cy="2168" r="16.95" fill="#0000ff"/>
<circle cx="527.23" cy="2209.5" r="16.95" fill="#0000ff"/>
<circle cx="577.92" cy="2208.5" r="16.95" fill="#0000ff"/>
<circle cx="628.6" cy="2165" r="16.95" fill="#0000ff"/>
<circle cx="679.28" cy="2135" r="16.95" fill="#0000ff"/>
<circle cx="729.97" cy="2121" r="16.95" fill="#0000ff"/>
<circle cx="780.65" cy="2142.5" r="16.95" fill="#0000ff"/>
<circle cx="831.33" cy="2129" r="16.95" fill="#0000ff"/>
<circle cx="882.02" cy="2143.5" r="16.95" fill="#0000ff"/>
<circle cx="932.7" cy="2115" r="16.95" fill="#0000ff"/>
<circle cx="983.38" cy="2118" r="16.95" fill="#0000ff"/>
<circle cx="1034.07" cy="2081.5" r="16.95" fill="#0000ff"/>
<circle cx="1084.75" cy="2081.5" r="16.95" fill="#0000ff"/>
<circle cx="1135.43" cy="2081.5" r="16.95" fill="#0000ff"/>
<circle cx="1186.12" cy="2082" r="16.95" fill="#0000ff"/>
<circle cx="1236.8" cy="2045" r="16.95" fill="#0000ff"/>
<circle cx="1287.48" cy="2046" r="16.95" fill="#0000ff"/>
<circle cx="1338.17" cy="2047.6" r="16.95" fill="#0000ff"/>
<circle cx="1388.85" cy="2049" r="16.95" fill="#0000ff"/>
<circle cx="1439.53" cy="2050" r="16.95" fill="#0000ff"/>
<circle cx="1490.22" cy="2012" r="16.95" fill="#0000ff"/>
<circle cx="1540.9" cy="2013" r="16.95" fill="#0000ff"/>
<circle cx="1591.58" cy="2014" r="16.95" fill="#0000ff"/>
<circle cx="1642.27" cy="2015" r="16.95" fill="#0000ff"/>
<circle cx="1692.95" cy="1975" r="16.95" fill="#0000ff"/>
<circle cx="1743.63" cy="1976" r="16.95" fill="#0000ff"/>
<circle cx="1794.32" cy="1977" r="16.95" fill="#0000ff"/>
<circle cx="1845" cy="1978" r="16.95" fill="#0000ff"/>
<g transform="translate(77.3 2624) rotate(-90)"><text font-size="78" class="si" transform="scale(0.915 1)">δ</text></g>
<g transform="translate(113.6 2588.8) rotate(-90)"><text font-size="57" class="si" transform="scale(1.16 1)">η</text></g>
<g transform="translate(149.95 2555.45) rotate(-90)"><text font-size="48.2">s</text></g>
<g transform="translate(112.2 2530.95) rotate(-90)"><text font-size="60.2">'</text></g>
<g transform="translate(77.7 2474.55) rotate(-90)"><text font-size="75.3">;</text></g>
<g transform="translate(77.3 2387.8) rotate(-90)"><text font-size="78" class="si" transform="scale(0.915 1)">δ</text></g>
<g transform="translate(113.6 2352.6) rotate(-90)"><text font-size="57" class="si" transform="scale(1.16 1)">η</text></g>
<g transform="translate(149.95 2319.25) rotate(-90)"><text font-size="48.2">s</text></g>
<g transform="translate(112.2 2294.1) rotate(-90)"><text font-size="60.2">''</text></g>
<g transform="translate(113.1 2219.95) rotate(-90)"><text font-size="59">(%)</text></g>
<text transform="translate(940.6 3327) scale(0.925 1)" text-anchor="middle" font-size="76.5" class="sr" style="fill:#000">(<tspan font-weight="bold">c</tspan>)</text>
<path d="M324.5 4559.28h9.5M1845 4559.28h-9.5M324.5 4538.39h9.5M1845 4538.39h-9.5M324.5 4523.57h9.5M1845 4523.57h-9.5M324.5 4512.07h9.5M1845 4512.07h-9.5M324.5 4502.67h9.5M1845 4502.67h-9.5M324.5 4494.73h9.5M1845 4494.73h-9.5M324.5 4487.85h9.5M1845 4487.85h-9.5M324.5 4481.78h9.5M1845 4481.78h-9.5M324.5 4476.35h9.5M1845 4476.35h-9.5M324.5 4440.63h9.5M1845 4440.63h-9.5M324.5 4419.74h9.5M1845 4419.74h-9.5M324.5 4404.92h9.5M1845 4404.92h-9.5M324.5 4393.42h9.5M1845 4393.42h-9.5M324.5 4384.02h9.5M1845 4384.02h-9.5M324.5 4376.08h9.5M1845 4376.08h-9.5M324.5 4369.2h9.5M1845 4369.2h-9.5M324.5 4363.13h9.5M1845 4363.13h-9.5M324.5 4321.98h9.5M1845 4321.98h-9.5M324.5 4301.09h9.5M1845 4301.09h-9.5M324.5 4286.27h9.5M1845 4286.27h-9.5M324.5 4274.77h9.5M1845 4274.77h-9.5M324.5 4265.37h9.5M1845 4265.37h-9.5M324.5 4257.43h9.5M1845 4257.43h-9.5M324.5 4250.55h9.5M1845 4250.55h-9.5M324.5 4244.48h9.5M1845 4244.48h-9.5M324.5 4239.05h9.5M1845 4239.05h-9.5M324.5 4203.33h9.5M1845 4203.33h-9.5M324.5 4182.44h9.5M1845 4182.44h-9.5M324.5 4167.62h9.5M1845 4167.62h-9.5M324.5 4156.12h9.5M1845 4156.12h-9.5M324.5 4146.72h9.5M1845 4146.72h-9.5M324.5 4138.78h9.5M1845 4138.78h-9.5M324.5 4131.9h9.5M1845 4131.9h-9.5M324.5 4125.83h9.5M1845 4125.83h-9.5M324.5 4084.68h9.5M1845 4084.68h-9.5M324.5 4063.79h9.5M1845 4063.79h-9.5M324.5 4048.97h9.5M1845 4048.97h-9.5M324.5 4037.47h9.5M1845 4037.47h-9.5M324.5 4028.07h9.5M1845 4028.07h-9.5M324.5 4020.13h9.5M1845 4020.13h-9.5M324.5 4013.25h9.5M1845 4013.25h-9.5M324.5 4007.18h9.5M1845 4007.18h-9.5M324.5 4001.75h9.5M1845 4001.75h-9.5M324.5 3966.03h9.5M1845 3966.03h-9.5M324.5 3945.14h9.5M1845 3945.14h-9.5M324.5 3930.32h9.5M1845 3930.32h-9.5M324.5 3918.82h9.5M1845 3918.82h-9.5M324.5 3909.42h9.5M1845 3909.42h-9.5M324.5 3901.48h9.5M1845 3901.48h-9.5M324.5 3894.6h9.5M1845 3894.6h-9.5M324.5 3888.53h9.5M1845 3888.53h-9.5M324.5 3847.38h9.5M1845 3847.38h-9.5M324.5 3826.49h9.5M1845 3826.49h-9.5M324.5 3811.67h9.5M1845 3811.67h-9.5M324.5 3800.17h9.5M1845 3800.17h-9.5M324.5 3790.77h9.5M1845 3790.77h-9.5M324.5 3782.83h9.5M1845 3782.83h-9.5M324.5 3775.95h9.5M1845 3775.95h-9.5M324.5 3769.88h9.5M1845 3769.88h-9.5M324.5 3764.45h9.5M1845 3764.45h-9.5M324.5 3728.73h9.5M1845 3728.73h-9.5M324.5 3707.84h9.5M1845 3707.84h-9.5M324.5 3693.02h9.5M1845 3693.02h-9.5M324.5 3681.52h9.5M1845 3681.52h-9.5M324.5 3672.12h9.5M1845 3672.12h-9.5M324.5 3664.18h9.5M1845 3664.18h-9.5M324.5 3657.3h9.5M1845 3657.3h-9.5M324.5 3651.23h9.5M1845 3651.23h-9.5M324.5 3610.08h9.5M1845 3610.08h-9.5M324.5 3589.19h9.5M1845 3589.19h-9.5M324.5 3574.37h9.5M1845 3574.37h-9.5M324.5 3562.87h9.5M1845 3562.87h-9.5M324.5 3553.47h9.5M1845 3553.47h-9.5M324.5 3545.53h9.5M1845 3545.53h-9.5M324.5 3538.65h9.5M1845 3538.65h-9.5M324.5 3532.58h9.5M1845 3532.58h-9.5M324.5 3527.15h9.5M1845 3527.15h-9.5M324.5 3491.43h9.5M1845 3491.43h-9.5M324.5 3470.54h9.5M1845 3470.54h-9.5M324.5 3455.72h9.5M1845 3455.72h-9.5M324.5 3444.22h9.5M1845 3444.22h-9.5M324.5 3434.82h9.5M1845 3434.82h-9.5M324.5 3426.88h9.5M1845 3426.88h-9.5M324.5 3420h9.5M1845 3420h-9.5M324.5 3413.93h9.5M1845 3413.93h-9.5M348.06 3408.5v9.5M348.06 4595v-9.5M377.45 3408.5v9.5M377.45 4595v-9.5M403.38 3408.5v9.5M403.38 4595v-9.5M426.57 3408.5v16M426.57 4595v-16M579.14 3408.5v9.5M579.14 4595v-9.5M668.39 3408.5v9.5M668.39 4595v-9.5M731.71 3408.5v9.5M731.71 4595v-9.5M780.83 3408.5v9.5M780.83 4595v-9.5M820.96 3408.5v9.5M820.96 4595v-9.5M854.89 3408.5v9.5M854.89 4595v-9.5M884.28 3408.5v9.5M884.28 4595v-9.5M910.21 3408.5v9.5M910.21 4595v-9.5M933.4 3408.5v16M933.4 4595v-16M1085.97 3408.5v9.5M1085.97 4595v-9.5M1175.22 3408.5v9.5M1175.22 4595v-9.5M1238.54 3408.5v9.5M1238.54 4595v-9.5M1287.66 3408.5v9.5M1287.66 4595v-9.5M1327.79 3408.5v9.5M1327.79 4595v-9.5M1361.72 3408.5v9.5M1361.72 4595v-9.5M1391.12 3408.5v9.5M1391.12 4595v-9.5M1417.04 3408.5v9.5M1417.04 4595v-9.5M1440.23 3408.5v16M1440.23 4595v-16M1592.81 3408.5v9.5M1592.81 4595v-9.5M1682.05 3408.5v9.5M1682.05 4595v-9.5M1745.38 3408.5v9.5M1745.38 4595v-9.5M1794.49 3408.5v9.5M1794.49 4595v-9.5M1834.63 3408.5v9.5M1834.63 4595v-9.5" stroke="#262626" stroke-width="2.7" fill="none"/>
<path d="M324.5 4357.7h16M1845 4357.7h-16M324.5 4120.4h16M1845 4120.4h-16M324.5 3883.1h16M1845 3883.1h-16M324.5 3645.8h16M1845 3645.8h-16" stroke="#262626" stroke-width="3.6" fill="none"/>
<rect x="324.5" y="3408.5" width="1520.5" height="1186.5" fill="none" stroke="#262626" stroke-width="3.0"/>
<text x="299.2" y="3444.4" text-anchor="end" font-size="68.5">10<tspan dy="-33" font-size="54.8">2</tspan></text>
<text x="299.2" y="3681.7" text-anchor="end" font-size="68.5">10<tspan dy="-33" font-size="54.8">0</tspan></text>
<text x="299.2" y="3919" text-anchor="end" font-size="68.5">10<tspan dy="-33" font-size="54.8">-2</tspan></text>
<text x="299.2" y="4156.3" text-anchor="end" font-size="68.5">10<tspan dy="-33" font-size="54.8">-4</tspan></text>
<text x="299.2" y="4393.6" text-anchor="end" font-size="68.5">10<tspan dy="-33" font-size="54.8">-6</tspan></text>
<text x="299.2" y="4630.9" text-anchor="end" font-size="68.5">10<tspan dy="-33" font-size="54.8">-8</tspan></text>
<text x="422.57" y="4704.7" text-anchor="middle" font-size="68.5">10<tspan dy="-33" font-size="54.8">-1</tspan></text>
<text x="929.4" y="4704.7" text-anchor="middle" font-size="68.5">10<tspan dy="-33" font-size="54.8">0</tspan></text>
<text x="1438.53" y="4704.7" text-anchor="middle" font-size="68.5">10<tspan dy="-33" font-size="54.8">1</tspan></text>
<text x="921" y="4806.6" font-size="72.5" class="si">ω</text>
<text x="1030.5" y="4805.1" font-size="75.3">(rad/s)</text>
<circle cx="324.5" cy="4428.5" r="14.65" fill="none" stroke="#000000" stroke-width="4.1"/>
<circle cx="375.18" cy="4426" r="14.65" fill="none" stroke="#000000" stroke-width="4.1"/>
<circle cx="425.87" cy="4425.5" r="14.65" fill="none" stroke="#000000" stroke-width="4.1"/>
<circle cx="476.55" cy="4423.5" r="14.65" fill="none" stroke="#000000" stroke-width="4.1"/>
<circle cx="527.23" cy="4424" r="14.65" fill="none" stroke="#000000" stroke-width="4.1"/>
<circle cx="577.92" cy="4423.5" r="14.65" fill="none" stroke="#000000" stroke-width="4.1"/>
<circle cx="628.6" cy="4422.5" r="14.65" fill="none" stroke="#000000" stroke-width="4.1"/>
<circle cx="679.28" cy="4422" r="14.65" fill="none" stroke="#000000" stroke-width="4.1"/>
<circle cx="729.97" cy="4421" r="14.65" fill="none" stroke="#000000" stroke-width="4.1"/>
<circle cx="780.65" cy="4418.5" r="14.65" fill="none" stroke="#000000" stroke-width="4.1"/>
<circle cx="831.33" cy="4415.5" r="14.65" fill="none" stroke="#000000" stroke-width="4.1"/>
<circle cx="882.02" cy="4412" r="14.65" fill="none" stroke="#000000" stroke-width="4.1"/>
<circle cx="932.7" cy="4408" r="14.65" fill="none" stroke="#000000" stroke-width="4.1"/>
<circle cx="983.38" cy="4403" r="14.65" fill="none" stroke="#000000" stroke-width="4.1"/>
<circle cx="1034.07" cy="4396.5" r="14.65" fill="none" stroke="#000000" stroke-width="4.1"/>
<circle cx="1084.75" cy="4388" r="14.65" fill="none" stroke="#000000" stroke-width="4.1"/>
<circle cx="1135.43" cy="4378.5" r="14.65" fill="none" stroke="#000000" stroke-width="4.1"/>
<circle cx="1186.12" cy="4367.5" r="14.65" fill="none" stroke="#000000" stroke-width="4.1"/>
<circle cx="1236.8" cy="4356" r="14.65" fill="none" stroke="#000000" stroke-width="4.1"/>
<circle cx="1287.48" cy="4344" r="14.65" fill="none" stroke="#000000" stroke-width="4.1"/>
<circle cx="1338.17" cy="4331.6" r="14.65" fill="none" stroke="#000000" stroke-width="4.1"/>
<circle cx="1388.85" cy="4318.6" r="14.65" fill="none" stroke="#000000" stroke-width="4.1"/>
<circle cx="1439.53" cy="4305" r="14.65" fill="none" stroke="#000000" stroke-width="4.1"/>
<circle cx="1490.22" cy="4290.7" r="14.65" fill="none" stroke="#000000" stroke-width="4.1"/>
<circle cx="1540.9" cy="4277.1" r="14.65" fill="none" stroke="#000000" stroke-width="4.1"/>
<circle cx="1591.58" cy="4428.3" r="14.65" fill="none" stroke="#000000" stroke-width="4.1"/>
<circle cx="1642.27" cy="4249.2" r="14.65" fill="none" stroke="#000000" stroke-width="4.1"/>
<circle cx="1692.95" cy="4235" r="14.65" fill="none" stroke="#000000" stroke-width="4.1"/>
<circle cx="1743.63" cy="4220.1" r="14.65" fill="none" stroke="#000000" stroke-width="4.1"/>
<circle cx="1794.32" cy="4204.6" r="14.65" fill="none" stroke="#000000" stroke-width="4.1"/>
<circle cx="1845" cy="4188.5" r="14.65" fill="none" stroke="#000000" stroke-width="4.1"/>
<circle cx="324.5" cy="4158.5" r="14.65" fill="none" stroke="#ff0000" stroke-width="4.1"/>
<circle cx="375.18" cy="4219.5" r="14.65" fill="none" stroke="#ff0000" stroke-width="4.1"/>
<circle cx="425.87" cy="4155.5" r="14.65" fill="none" stroke="#ff0000" stroke-width="4.1"/>
<circle cx="476.55" cy="4226.5" r="14.65" fill="none" stroke="#ff0000" stroke-width="4.1"/>
<circle cx="527.23" cy="4206" r="14.65" fill="none" stroke="#ff0000" stroke-width="4.1"/>
<circle cx="577.92" cy="4187.5" r="14.65" fill="none" stroke="#ff0000" stroke-width="4.1"/>
<circle cx="628.6" cy="4165.5" r="14.65" fill="none" stroke="#ff0000" stroke-width="4.1"/>
<circle cx="679.28" cy="4141" r="14.65" fill="none" stroke="#ff0000" stroke-width="4.1"/>
<circle cx="729.97" cy="4111.5" r="14.65" fill="none" stroke="#ff0000" stroke-width="4.1"/>
<circle cx="780.65" cy="4078" r="14.65" fill="none" stroke="#ff0000" stroke-width="4.1"/>
<circle cx="831.33" cy="4040" r="14.65" fill="none" stroke="#ff0000" stroke-width="4.1"/>
<circle cx="882.02" cy="3999" r="14.65" fill="none" stroke="#ff0000" stroke-width="4.1"/>
<circle cx="932.7" cy="4039.5" r="14.65" fill="none" stroke="#ff0000" stroke-width="4.1"/>
<circle cx="983.38" cy="4000.5" r="14.65" fill="none" stroke="#ff0000" stroke-width="4.1"/>
<circle cx="1034.07" cy="3963.5" r="14.65" fill="none" stroke="#ff0000" stroke-width="4.1"/>
<circle cx="1084.75" cy="3928.5" r="14.65" fill="none" stroke="#ff0000" stroke-width="4.1"/>
<circle cx="1135.43" cy="3897" r="14.65" fill="none" stroke="#ff0000" stroke-width="4.1"/>
<circle cx="1186.12" cy="4002" r="14.65" fill="none" stroke="#ff0000" stroke-width="4.1"/>
<circle cx="1236.8" cy="3927" r="14.65" fill="none" stroke="#ff0000" stroke-width="4.1"/>
<circle cx="1287.48" cy="3869" r="14.65" fill="none" stroke="#ff0000" stroke-width="4.1"/>
<circle cx="1338.17" cy="3915.4" r="14.65" fill="none" stroke="#ff0000" stroke-width="4.1"/>
<circle cx="1388.85" cy="3927.2" r="14.65" fill="none" stroke="#ff0000" stroke-width="4.1"/>
<circle cx="1439.53" cy="3860.9" r="14.65" fill="none" stroke="#ff0000" stroke-width="4.1"/>
<circle cx="1490.22" cy="3821.9" r="14.65" fill="none" stroke="#ff0000" stroke-width="4.1"/>
<circle cx="1540.9" cy="3823.7" r="14.65" fill="none" stroke="#ff0000" stroke-width="4.1"/>
<circle cx="1591.58" cy="3926" r="14.65" fill="none" stroke="#ff0000" stroke-width="4.1"/>
<circle cx="1642.27" cy="3767.4" r="14.65" fill="none" stroke="#ff0000" stroke-width="4.1"/>
<circle cx="1692.95" cy="3785.3" r="14.65" fill="none" stroke="#ff0000" stroke-width="4.1"/>
<circle cx="1743.63" cy="3814.4" r="14.65" fill="none" stroke="#ff0000" stroke-width="4.1"/>
<circle cx="1794.32" cy="3744.4" r="14.65" fill="none" stroke="#ff0000" stroke-width="4.1"/>
<circle cx="1845" cy="3764.3" r="14.65" fill="none" stroke="#ff0000" stroke-width="4.1"/>
<circle cx="324.5" cy="3819.5" r="14.65" fill="none" stroke="#0000ff" stroke-width="4.1"/>
<circle cx="375.18" cy="4025" r="14.65" fill="none" stroke="#0000ff" stroke-width="4.1"/>
<circle cx="425.87" cy="3791" r="14.65" fill="none" stroke="#0000ff" stroke-width="4.1"/>
<circle cx="476.55" cy="3805.5" r="14.65" fill="none" stroke="#0000ff" stroke-width="4.1"/>
<circle cx="527.23" cy="3836.5" r="14.65" fill="none" stroke="#0000ff" stroke-width="4.1"/>
<circle cx="577.92" cy="3780" r="14.65" fill="none" stroke="#0000ff" stroke-width="4.1"/>
<circle cx="628.6" cy="3796.5" r="14.65" fill="none" stroke="#0000ff" stroke-width="4.1"/>
<circle cx="679.28" cy="3786" r="14.65" fill="none" stroke="#0000ff" stroke-width="4.1"/>
<circle cx="729.97" cy="3794.5" r="14.65" fill="none" stroke="#0000ff" stroke-width="4.1"/>
<circle cx="780.65" cy="3791.5" r="14.65" fill="none" stroke="#0000ff" stroke-width="4.1"/>
<circle cx="831.33" cy="3783" r="14.65" fill="none" stroke="#0000ff" stroke-width="4.1"/>
<circle cx="882.02" cy="3816" r="14.65" fill="none" stroke="#0000ff" stroke-width="4.1"/>
<circle cx="932.7" cy="3825.5" r="14.65" fill="none" stroke="#0000ff" stroke-width="4.1"/>
<circle cx="983.38" cy="3775" r="14.65" fill="none" stroke="#0000ff" stroke-width="4.1"/>
<circle cx="1034.07" cy="3735" r="14.65" fill="none" stroke="#0000ff" stroke-width="4.1"/>
<circle cx="1084.75" cy="3719" r="14.65" fill="none" stroke="#0000ff" stroke-width="4.1"/>
<circle cx="1135.43" cy="3722" r="14.65" fill="none" stroke="#0000ff" stroke-width="4.1"/>
<circle cx="1186.12" cy="3696.5" r="14.65" fill="none" stroke="#0000ff" stroke-width="4.1"/>
<circle cx="1236.8" cy="3703.5" r="14.65" fill="none" stroke="#0000ff" stroke-width="4.1"/>
<circle cx="1287.48" cy="3669.5" r="14.65" fill="none" stroke="#0000ff" stroke-width="4.1"/>
<circle cx="1338.17" cy="3667.9" r="14.65" fill="none" stroke="#0000ff" stroke-width="4.1"/>
<circle cx="1388.85" cy="3666" r="14.65" fill="none" stroke="#0000ff" stroke-width="4.1"/>
<circle cx="1439.53" cy="3665.4" r="14.65" fill="none" stroke="#0000ff" stroke-width="4.1"/>
<circle cx="1490.22" cy="3666" r="14.65" fill="none" stroke="#0000ff" stroke-width="4.1"/>
<circle cx="1540.9" cy="3630.7" r="14.65" fill="none" stroke="#0000ff" stroke-width="4.1"/>
<circle cx="1591.58" cy="3630.7" r="14.65" fill="none" stroke="#0000ff" stroke-width="4.1"/>
<circle cx="1642.27" cy="3631.4" r="14.65" fill="none" stroke="#0000ff" stroke-width="4.1"/>
<circle cx="1692.95" cy="3593.6" r="14.65" fill="none" stroke="#0000ff" stroke-width="4.1"/>
<circle cx="1743.63" cy="3594.2" r="14.65" fill="none" stroke="#0000ff" stroke-width="4.1"/>
<circle cx="1794.32" cy="3594.2" r="14.65" fill="none" stroke="#0000ff" stroke-width="4.1"/>
<circle cx="1845" cy="3594.8" r="14.65" fill="none" stroke="#0000ff" stroke-width="4.1"/>
<g transform="translate(77.3 4153.7) rotate(-90)"><text font-size="78" class="si" transform="scale(0.915 1)">δ</text></g>
<g transform="translate(113.6 4118.5) rotate(-90)"><text font-size="57" class="si" transform="scale(1.16 1)">η</text></g>
<g transform="translate(149.95 4085.15) rotate(-90)"><text font-size="48.2">s</text></g>
<g transform="translate(112.2 4060) rotate(-90)"><text font-size="60.2">''</text></g>
<g transform="translate(76.45 3971.2) rotate(-90)"><text font-size="74">(%)</text></g>
</svg></body></html>
